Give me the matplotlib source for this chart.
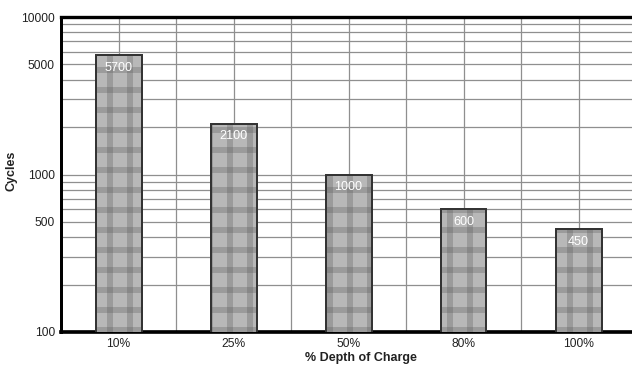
import matplotlib.pyplot as plt
from matplotlib.ticker import FixedLocator, LogLocator, NullFormatter

# cycle life vs depth of discharge
depth = ['10%', '25%', '50%', '80%', '100%']
cycles = [5700, 2100, 1000, 600, 450]
y_ticks = [100, 500, 1000, 5000, 10000]

plt.rcParams['font.family'] = ['Liberation Sans', 'DejaVu Sans']
plt.rcParams['hatch.linewidth'] = 3.6

fig = plt.figure(figsize=(632 / 120, 366 / 120), dpi=120)
ax = fig.add_axes([61 / 632, 34 / 366, 575 / 632, 315 / 366])

x = list(range(len(depth)))

# grey bars with a plaid texture (two semi-transparent hatch layers)
ax.bar(x, cycles, width=0.4, color='#b8b8b8', edgecolor='#333333', linewidth=1.1, zorder=3)
for h in ['-', '|']:
    ax.bar(x, cycles, width=0.4, facecolor='none', edgecolor=(0.35, 0.35, 0.35, 0.3),
           linewidth=0, hatch=h, zorder=4)
ax.bar(x, cycles, width=0.4, facecolor='none', edgecolor='#333333', linewidth=1.1, zorder=5)

for i, v in enumerate(cycles):
    ax.annotate(str(v), (i, v), xytext=(0, -7.5), textcoords='offset points',
                ha='center', va='center', color='white', fontsize=7.6, zorder=6)

ax.set_yscale('log')
ax.set_ylim(100, 10000)
ax.set_xlim(-0.5, 4.5)

ax.set_yticks(y_ticks)
ax.set_yticklabels([str(t) for t in y_ticks])
ax.yaxis.set_minor_locator(LogLocator(base=10, subs=range(2, 10)))
ax.yaxis.set_minor_formatter(NullFormatter())

ax.set_xticks(x)
ax.set_xticklabels(depth)
ax.xaxis.set_minor_locator(FixedLocator([i + 0.5 for i in range(-1, 5)]))

ax.tick_params(which='both', length=0, labelsize=7.2, colors='#222222', pad=3.6)
ax.grid(True, which='both', color='#8f8f8f', linewidth=0.75)
ax.set_axisbelow(True)

ax.spines['right'].set_visible(False)
ax.spines['top'].set_linewidth(2.0)
ax.spines['left'].set_linewidth(1.8)
ax.spines['bottom'].set_linewidth(2.2)

ax.set_xlabel('% Depth of Charge', fontweight='bold', fontsize=7.5, color='#222222')
ax.xaxis.set_label_coords(0.522, -0.063)
ax.set_ylabel('Cycles', fontweight='bold', fontsize=7.5, color='#222222')
ax.yaxis.set_label_coords(-0.075, 0.511)

fig.savefig('out.png', dpi=120)
